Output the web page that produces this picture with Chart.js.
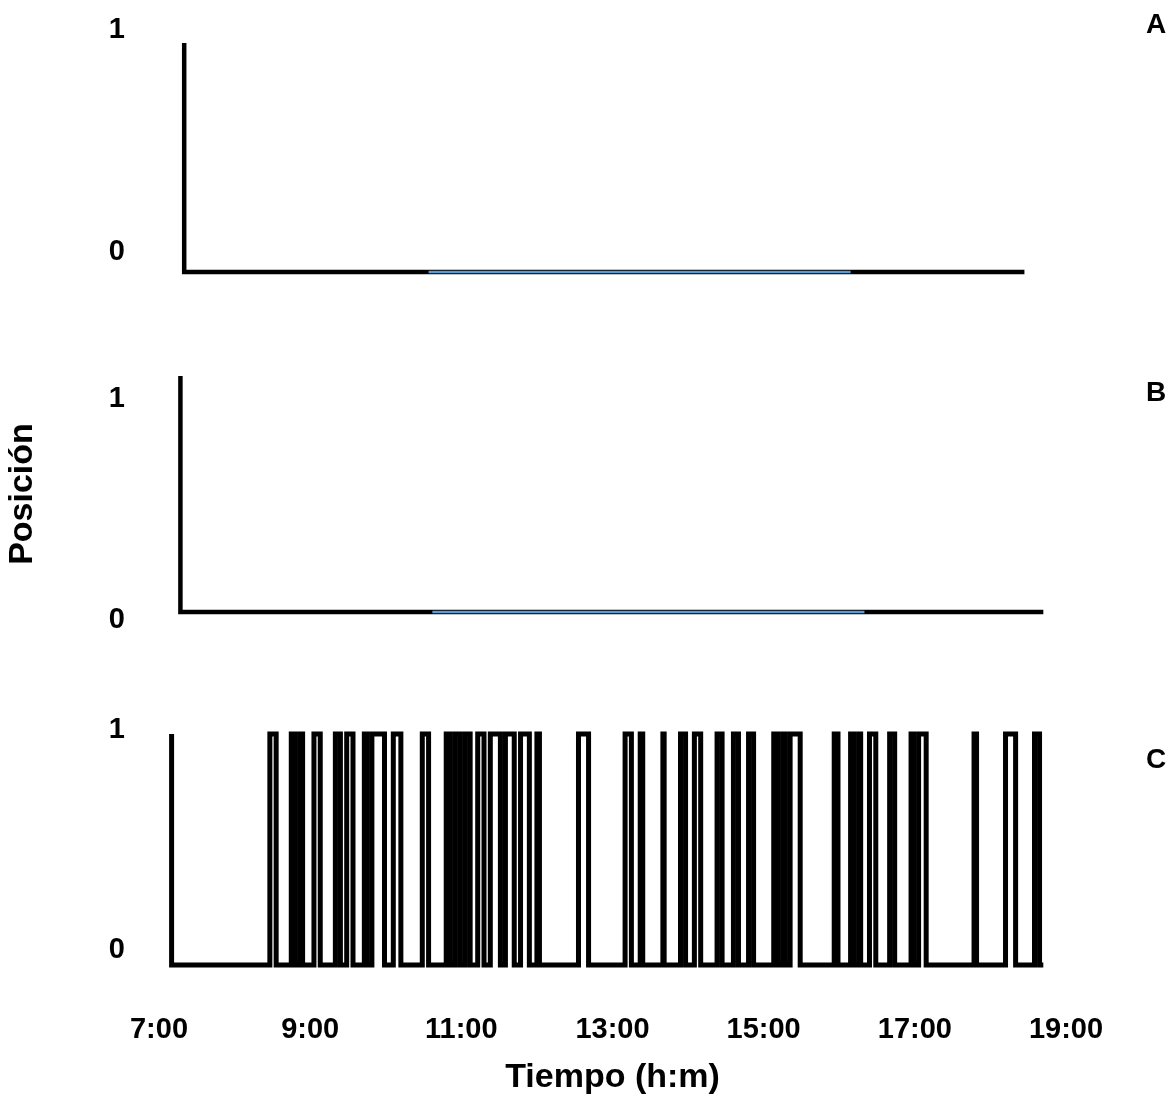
<!DOCTYPE html>
<html>
<head>
<meta charset="utf-8">
<script src="https://cdn.jsdelivr.net/npm/chart.js@4"></script>
<style>
    body { margin: 0; background: #fff; }
    #figura { position: relative; width: 1176px; height: 1098px; font-family: "Liberation Sans", Arial, sans-serif; }
    .panel { position: absolute; left: 0; width: 1176px; }
    .letra { position: absolute; font-weight: bold; font-size: 28px; }
</style>
</head>
<body>
<div id="figura">
    <div class="panel" style="top:0;height:300px"><canvas id="graficaA"></canvas></div>
    <div class="panel" style="top:320px;height:320px"><canvas id="graficaB"></canvas></div>
    <div class="panel" style="top:660px;height:438px"><canvas id="graficaC"></canvas></div>
    <div class="letra" style="left:1146px;top:8px">A</div>
    <div class="letra" style="left:1146px;top:376px">B</div>
    <div class="letra" style="left:1146px;top:743px">C</div>
</div>
<script>
// Eje de tiempo
const etiquetasHora = ["7:00", "9:00", "11:00", "13:00", "15:00", "17:00", "19:00"];
const etiquetasPos = ["0", "1"];

// Panel A
const inicioA = "7:20";
const finA = "18:27";
const azulA = ["10:34", "16:09"];

// Panel B
const inicioB = "7:17";
const finB = "18:42";
const azulB = ["10:37", "16:20"];

// Panel C: cambios de posición 0 -> 1 (subidas) y 1 -> 0 (bajadas)
const inicioC = "7:10";
const finC = "18:42";
const subidasC = ["8:28", "8:45", "8:52", "9:03", "9:20", "9:29", "9:43", "9:49", "10:06", "10:29",
    "10:48", "10:55", "11:03", "11:13", "11:23", "11:35", "11:47", "12:00", "12:33", "13:10",
    "13:22", "13:40", "13:54", "14:05", "14:23", "14:36", "14:48", "15:08", "15:15", "15:21",
    "15:56", "16:09", "16:16", "16:24", "16:40", "16:57", "17:03", "17:47", "18:12", "18:35"];
const bajadasC = ["8:33", "8:48", "8:54", "9:08", "9:24", "9:34", "9:45", "9:59", "10:12", "10:34",
    "10:51", "10:59", "11:07", "11:18", "11:31", "11:42", "11:54", "12:02", "12:41", "13:15",
    "13:24", "13:41", "13:58", "14:10", "14:27", "14:40", "14:52", "15:11", "15:17", "15:29",
    "15:59", "16:12", "16:17", "16:29", "16:44", "16:59", "17:09", "17:49", "18:20", "18:39"];

const fuente = "'Liberation Sans', Arial, sans-serif";
const azul = "#5b9bd5";

// "h:mm" -> minutos
function minutos(hora) {
    const [h, m] = hora.split(":").map(Number);
    return h * 60 + m;
}

// Traza que empieza en 1 y cae a 0
function trazaBase(inicio, fin) {
    return [
        { x: minutos(inicio), y: 1 },
        { x: minutos(inicio), y: 0 },
        { x: minutos(fin), y: 0 }
    ];
}

function trazaPulsos() {
    const puntos = [{ x: minutos(inicioC), y: 1 }, { x: minutos(inicioC), y: 0 }];
    subidasC.forEach((s, i) => {
        const a = minutos(s);
        const b = minutos(bajadasC[i]);
        puntos.push({ x: a, y: 0 }, { x: a, y: 1 }, { x: b, y: 1 }, { x: b, y: 0 });
    });
    puntos.push({ x: minutos(finC), y: 0 });
    return puntos;
}

function linea(datos, color, ancho, orden) {
    return {
        data: datos,
        order: orden,
        borderColor: color,
        borderWidth: ancho,
        borderJoinStyle: "miter",
        borderCapStyle: "butt",
        pointRadius: 0,
        tension: 0,
        fill: false,
        clip: false
    };
}

// Etiquetas 0 / 1 del eje Y, desplazadas como en la figura
const etiquetasY = {
    id: "etiquetasY",
    afterDraw(chart, args, opts) {
        const { ctx, scales } = chart;
        ctx.save();
        ctx.font = `bold 29px ${fuente}`;
        ctx.fillStyle = "#000";
        ctx.textAlign = "right";
        ctx.textBaseline = "middle";
        etiquetasPos.forEach((t, i) => {
            const y = scales.y.getPixelForValue(Number(t)) + opts.desfases[i];
            ctx.fillText(t, 125, y);
        });
        ctx.restore();
    }
};

function crearGrafica(id, datasets, opc) {
    const ctx = document.getElementById(id).getContext("2d");
    return new Chart(ctx, {
        type: "line",
        data: { datasets },
        plugins: [etiquetasY],
        options: {
            responsive: true,
            maintainAspectRatio: false,
            animation: false,
            layout: { padding: { top: opc.arriba, bottom: opc.abajo, left: 0, right: 110 } },
            plugins: {
                legend: { display: false },
                tooltip: { enabled: false },
                etiquetasY: { desfases: opc.desfases }
            },
            scales: {
                x: {
                    type: "linear",
                    min: minutos(etiquetasHora[0]),
                    max: minutos(etiquetasHora[etiquetasHora.length - 1]),
                    display: opc.ejeX,
                    grid: { display: false, drawTicks: false },
                    border: { display: false },
                    afterBuildTicks: s => {
                        s.ticks = etiquetasHora.map(h => ({ value: minutos(h) }));
                    },
                    afterFit: s => { s.height = opc.ejeX ? 133 : 0; },
                    ticks: {
                        autoSkip: false,
                        maxRotation: 0,
                        padding: 48,
                        color: "#000",
                        font: { family: fuente, size: 29, weight: "bold" },
                        callback: (v, i) => etiquetasHora[i]
                    },
                    title: {
                        display: opc.ejeX,
                        text: "Tiempo (h:m)",
                        color: "#000",
                        padding: { top: 0, bottom: 0 },
                        font: { family: fuente, size: 34, weight: "bold" }
                    }
                },
                y: {
                    min: 0,
                    max: 1,
                    grid: { display: false, drawTicks: false },
                    border: { display: false },
                    afterFit: s => { s.width = 159; },
                    ticks: { display: false },
                    title: {
                        display: !!opc.tituloY,
                        text: opc.tituloY || "",
                        color: "#000",
                        padding: { top: 2, bottom: 0 },
                        font: { family: fuente, size: 34, weight: "bold" }
                    }
                }
            }
        }
    });
}

crearGrafica("graficaA", [
    linea(trazaBase(inicioA, finA), "#000", 4.5, 1),
    linea(azulA.map(h => ({ x: minutos(h), y: 0 })), azul, 2.5, 0)
], { arriba: 43, abajo: 28, ejeX: false, desfases: [-20, -13] });

crearGrafica("graficaB", [
    linea(trazaBase(inicioB, finB), "#000", 4.5, 1),
    linea(azulB.map(h => ({ x: minutos(h), y: 0 })), azul, 2.5, 0)
], { arriba: 56, abajo: 28, ejeX: false, desfases: [8, 23], tituloY: "Posición" });

crearGrafica("graficaC", [
    linea(trazaPulsos(), "#000", 5, 0)
], { arriba: 74, abajo: 0, ejeX: true, desfases: [-15, -4] });
</script>
</body>
</html>
